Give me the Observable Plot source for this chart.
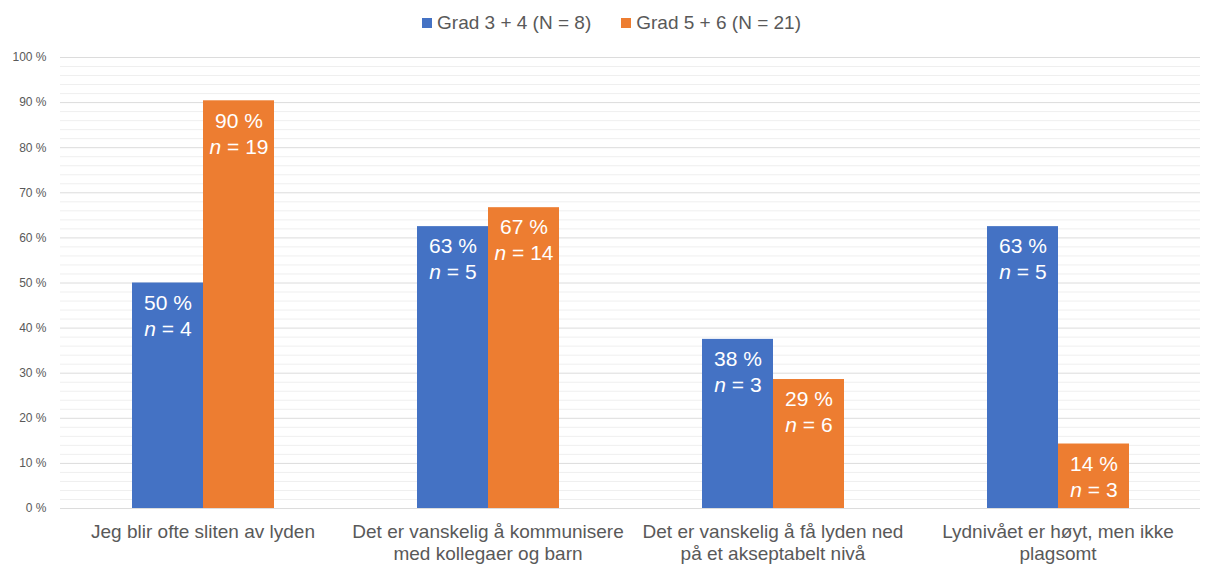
<!DOCTYPE html>
<html>
<head>
<meta charset="utf-8">
<script src="https://cdn.jsdelivr.net/npm/d3@7"></script>
<script src="https://cdn.jsdelivr.net/npm/@observablehq/plot@0.6"></script>
<style>
  html, body { margin: 0; padding: 0; background: #fff; }
  body { width: 1209px; height: 564px; overflow: hidden; font-family: "Liberation Sans", Arial, sans-serif; }
  #legend { height: 40px; display: flex; justify-content: center; align-items: center; gap: 30px; padding-left: 14px; padding-top: 6px; box-sizing: border-box; color: #595959; font-size: 19px; }
  .item { display: flex; align-items: center; gap: 5px; }
  .sw { width: 10px; height: 10px; display: inline-block; }
</style>
</head>
<body>
<div id="legend"></div>
<div id="chart"></div>
<script>
const categories = [
  "Jeg blir ofte sliten av lyden",
  "Det er vanskelig å kommunisere med kollegaer og barn",
  "Det er vanskelig å få lyden ned på et akseptabelt nivå",
  "Lydnivået er høyt, men ikke plagsomt"
];
const categoryLabels = [
  "Jeg blir ofte sliten av lyden",
  "Det er vanskelig å kommunisere\nmed kollegaer og barn",
  "Det er vanskelig å få lyden ned\npå et akseptabelt nivå",
  "Lydnivået er høyt, men ikke\nplagsomt"
];
const series = ["Grad 3 + 4 (N = 8)", "Grad 5 + 6 (N = 21)"];
const pctGrad34 = [50, 62.5, 37.5, 62.5];
const nGrad34 = [4, 5, 3, 5];
const pctGrad56 = [90.4, 66.7, 28.6, 14.3];
const nGrad56 = [19, 14, 6, 3];
const yTicks = [0, 10, 20, 30, 40, 50, 60, 70, 80, 90, 100];
const yMinorTicks = [2,4,6,8,12,14,16,18,22,24,26,28,32,34,36,38,42,44,46,48,52,54,56,58,62,64,66,68,72,74,76,78,82,84,86,88,92,94,96,98];
const colors = ["#4472C4", "#ED7D31"];

const data = categories.flatMap((c, i) => [
  {cat: c, s: series[0], v: pctGrad34[i], n: nGrad34[i]},
  {cat: c, s: series[1], v: pctGrad56[i], n: nGrad56[i]}
]);
const labelOf = new Map(categories.map((c, i) => [c, categoryLabels[i]]));

// legend
const legend = document.getElementById("legend");
series.forEach((s, i) => {
  const it = document.createElement("div");
  it.className = "item";
  it.innerHTML = `<span class="sw" style="background:${colors[i]}"></span><span>${s}</span>`;
  legend.appendChild(it);
});

const chart = Plot.plot({
  width: 1209,
  height: 524,
  marginTop: 17,
  marginBottom: 56,
  marginLeft: 60,
  marginRight: 9,
  style: {color: "#595959", fontFamily: "'Liberation Sans', Arial, sans-serif", background: "white"},
  fx: {domain: categories, padding: 0, label: null},
  x: {domain: series, paddingInner: 0, paddingOuter: 1, axis: null},
  y: {domain: [0, 100], label: null},
  color: {domain: series, range: colors},
  marks: [
    Plot.ruleY(yMinorTicks, {stroke: "#efefef", strokeWidth: 1}),
    Plot.ruleY(yTicks, {stroke: "#dcdcdc", strokeWidth: 1}),
    Plot.barY(data, {fx: "cat", x: "s", y: "v", fill: "s"}),
    Plot.text(data, {fx: "cat", x: "s", y: "v", text: d => Math.round(d.v) + " %", dy: 20, fill: "white", fontSize: 21}),
    Plot.text(data, {fx: "cat", x: "s", y: "v", text: d => "n = " + d.n, dy: 46, fill: "white", fontSize: 21}),
    Plot.axisY({ticks: yTicks, tickFormat: d => d + " %", tickSize: 0, tickPadding: 14, fontSize: 12, label: null}),
    Plot.axisFx({anchor: "bottom", tickSize: 0, tickPadding: 14, fontSize: 19, lineHeight: 1.15, tickFormat: d => labelOf.get(d), label: null})
  ]
});
document.getElementById("chart").appendChild(chart);

// italic "n" in the count labels
chart.querySelectorAll("text").forEach(t => {
  const txt = t.textContent;
  if (/^n = \d+$/.test(txt) && t.children.length === 0) {
    t.textContent = "";
    const ns = "http://www.w3.org/2000/svg";
    const it = document.createElementNS(ns, "tspan");
    it.setAttribute("font-style", "italic");
    it.textContent = "n";
    t.appendChild(it);
    t.appendChild(document.createTextNode(txt.slice(1)));
  }
});
</script>
</body>
</html>
